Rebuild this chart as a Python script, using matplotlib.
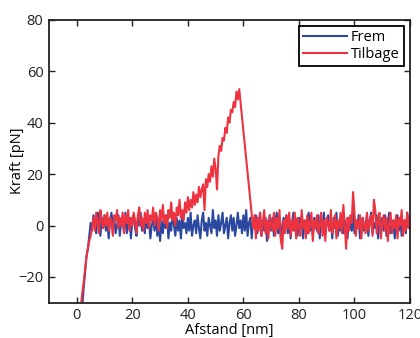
import numpy as np
import matplotlib
matplotlib.use('Agg')
import matplotlib.pyplot as plt

# Frem (approach) curve: steep contact rise, then noise around zero
frem_rise_x = [2.0, 2.5, 3.0, 3.5, 4.0, 4.5]
frem_rise_y = [-31, -24, -18, -12, -9, -4]
frem_x = np.arange(5.0, 120.25, 0.5)
frem_y = [1, -2, 4, 0, -3, 5, 2, -4, 3, -1,
          4, -2, 1, -5, 2, 5, -1, 3, -3, 0,
          4, -4, 2, 1, -2, 5, -3, 0, 3, -5,
          2, 4, -1, -4, 3, 0, 5, -2, 1, -3,
          4, -1, 2, -5, 0, 3, -2, 4, -4, 1,
          -6, 2, -3, 3, -1, 4, -5, 1, -2, 5,
          0, -4, 3, -2, 2, -5, 4, -1, 1, -3,
          3, -2, 5, -4, 0, 2, -3, 4, -1, -5,
          2, 5, -2, 1, -4, 3, 0, -3, 6, -1,
          2, -4, 4, -2, 1, 5, -3, 0, 3, -5,
          1, 4, -2, 3, -4, 0, 5, -1, 2, -3,
          4, -2, 6, -4, 1, 3, -5, 2, -1, 4,
          -3, 1, 5, -4, 2, -2, 3, -6, 0, 4,
          -2, 3, -4, 1, 5, -3, 2, -5, 0, 3,
          -1, 4, -3, 2, -5, 1, 5, -2, 0, -4,
          3, -1, 4, -5, 2, 0, -3, 5, -2, 1,
          -4, 3, 1, -2, 4, -5, 2, -1, 5, -3,
          0, 4, -2, 2, -5, 3, -1, 5, -4, 1,
          -2, 4, -3, 2, 0, -5, 3, 1, -2, 5,
          -3, 2, -1, 4, -5, 1, 3, -2, 0, 4,
          -4, 2, 5, -3, 1, -1, 4, -5, 2, 0,
          3, -2, 4, -4, 1, 5, -3, 0, 2, -5,
          1, 4, -2, 3, -4, 0, 2, -3, 5, -1,
          2]

# Tilbage (retract) curve: rise, stretching up to rupture, then noise
tilb_rise_x = [1.5, 2.0, 2.5, 3.0, 3.5, 4.0, 4.5, 5.0, 5.5]
tilb_rise_y = [-31, -26, -22, -17, -12, -9, -6, -4, -1]
tilb_pull_x = np.arange(6.0, 58.75, 0.5)
tilb_pull_y = [3, -2, 5, 1, -3, 6, 2, -1, 4, 0,
               5, -2, 3, 1, -4, 4, 2, 6, -1, 3,
               0, 5, -3, 4, 1, 6, -2, 3, 0, 5,
               2, -3, 4, 7, 0, 3, -2, 5, 1, 6,
               -1, 4, 2, 7, 0, 5, 3, -2, 6, 2,
               8, 1, 4, -1, 6, 3, 9, 2, 5, 0,
               7, 4, 10, 3, 6, 2, 9, 5, 11, 6,
               10, 7, 13, 8, 12, 9, 15, 11, 14, 16,
               6, 18, 15, 20, 17, 23, 19, 26, 22, 14,
               27, 31, 29, 34, 33, 38, 36, 42, 40, 45,
               44, 48, 46, 52, 49, 53]
tilb_post_x = np.arange(63.5, 120.25, 0.5)
tilb_post_y = [-1, 4, -5, 3, -2, 5, -4, 1, 6,
               -3, 2, -5, 4, 0, -2, 5, -4, 3, -1,
               6, -6, -9, 2, -3, 4, -1, 5, -4, 2,
               -2, 5, -5, 3, 0, -4, 6, -1, 2, -5,
               4, -3, 1, 5, -6, 2, -1, 4, -3, 0,
               5, -4, 2, -6, 3, 1, -2, 6, -3, 0,
               4, -5, 2, -1, 5, -3, 8, 0, -9, 3,
               -2, 4, 1, 13, 5, -4, 2, -1, 4, -5,
               3, 0, -3, 5, -2, 1, 4, -4, 10, 6,
               -3, 2, 5, -5, 1, 4, -2, 3, -6, 0,
               5, -3, 2, -1, 4, -5, 3, 0, 6, -4,
               2, -2, 5, -1, 3]

frem_all_x = np.concatenate([frem_rise_x, frem_x])
frem_all_y = np.concatenate([frem_rise_y, frem_y])
tilb_all_x = np.concatenate([tilb_rise_x, tilb_pull_x, tilb_post_x])
tilb_all_y = np.concatenate([tilb_rise_y, tilb_pull_y, tilb_post_y])

plt.rcParams['font.family'] = ['Open Sans', 'DejaVu Sans']
fig = plt.figure(figsize=(4.2, 3.38), dpi=100)
ax = fig.add_axes([0.1167, 0.1044, 0.8595, 0.8373])

ax.plot(frem_all_x, frem_all_y, color='#2b48a0', lw=1.5, label='Frem')
ax.plot(tilb_all_x, tilb_all_y, color='#ee3340', lw=1.5, label='Tilbage')

ax.set_xlim(-10, 120)
ax.set_ylim(-30, 80)
ax.set_xticks([0, 20, 40, 60, 80, 100, 120])
ax.set_yticks([-20, 0, 20, 40, 60, 80])
ax.set_yticklabels(['\u221220', '0', '20', '40', '60', '80'])
ax.tick_params(direction='in', top=True, right=True, length=4, width=1,
               labelsize=10.5, colors='#222222', pad=4)
for s in ax.spines.values():
    s.set_linewidth(1.3)
    s.set_color('#222222')
ax.set_xlabel('Afstand [nm]', fontsize=10.5, labelpad=0)
ax.set_ylabel('Kraft [pN]', fontsize=10.5, labelpad=-5)

leg = ax.legend(loc='upper right', fontsize=10.5, fancybox=False, framealpha=1,
                edgecolor='black', borderaxespad=0.4, handlelength=3.0,
                borderpad=0.3, labelspacing=0.15, handletextpad=0.3)
leg.get_frame().set_linewidth(1.3)

fig.savefig('out.png', dpi=100)
